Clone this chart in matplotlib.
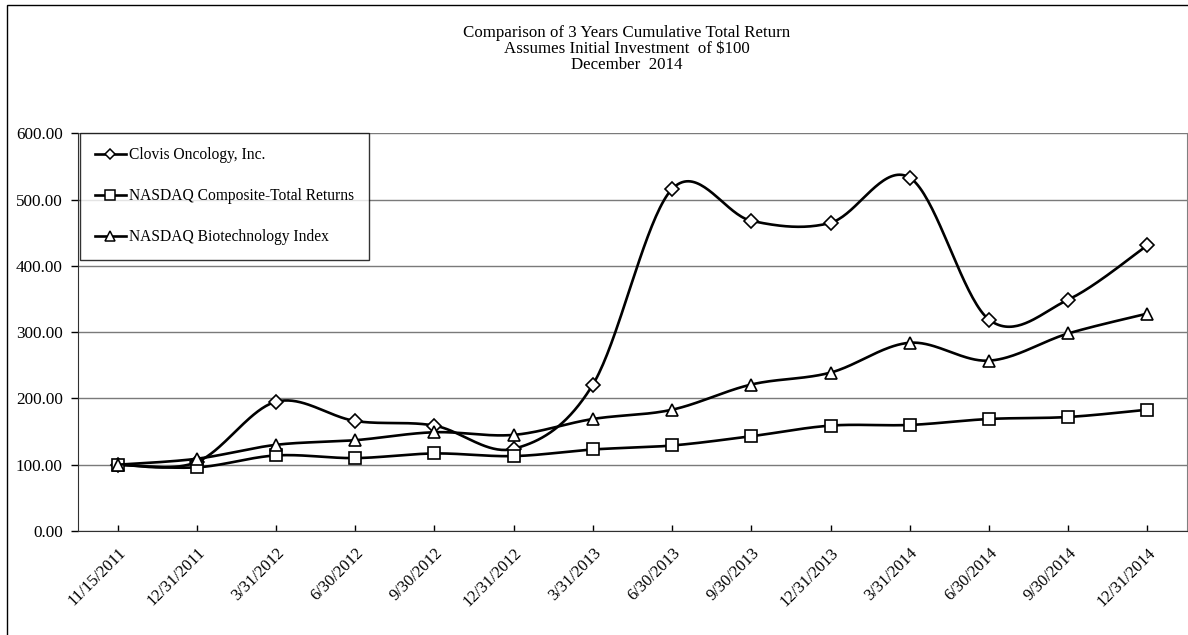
import numpy as np
import matplotlib
matplotlib.use("Agg")
import matplotlib.pyplot as plt
from matplotlib.patches import Rectangle

plt.rcParams['font.family'] = ['Liberation Serif', 'DejaVu Serif']

dates = ["11/15/2011", "12/31/2011", "3/31/2012", "6/30/2012", "9/30/2012",
         "12/31/2012", "3/31/2013", "6/30/2013", "9/30/2013", "12/31/2013",
         "3/31/2014", "6/30/2014", "9/30/2014", "12/31/2014"]
clovis = [100, 104, 195, 166, 159, 124, 221, 516, 468, 465, 533, 319, 349, 431]
composite = [100, 96, 114, 110, 117, 113, 123, 129, 143, 159, 160, 169, 172, 183]
biotech = [100, 109, 130, 137, 149, 145, 169, 183, 221, 239, 284, 257, 298, 328]

series = [("Clovis Oncology, Inc.", clovis, 'D', 6.8),
          ("NASDAQ Composite-Total Returns", composite, 's', 8.2),
          ("NASDAQ Biotechnology Index", biotech, '^', 8.8)]


def smooth(yvals, n=40):
    pts = np.column_stack([np.arange(len(yvals), dtype=float), np.asarray(yvals, float)])
    P = np.vstack([pts[0], pts, pts[-1]])
    out = []
    t = np.linspace(0, 1, n)[:, None]
    for i in range(len(pts) - 1):
        p0, p1, p2, p3 = P[i], P[i + 1], P[i + 2], P[i + 3]
        c1 = p1 + (p2 - p0) / 6.0
        c2 = p2 - (p3 - p1) / 6.0
        seg = (1 - t) ** 3 * p1 + 3 * (1 - t) ** 2 * t * c1 + 3 * (1 - t) * t ** 2 * c2 + t ** 3 * p2
        out.append(seg if i == 0 else seg[1:])
    s = np.vstack(out)
    return s[:, 0], s[:, 1]


W, H = 1188, 635
fig = plt.figure(figsize=(W / 100, H / 100), dpi=100)
ax = fig.add_axes([78 / W, 1 - 531 / H, (1187 - 78) / W, (531 - 133.3) / H])

# outer chart border
fig.patches.append(Rectangle((7 / W, -0.05), 1.2, 1 - 5 / H + 0.05, transform=fig.transFigure,
                             fill=False, edgecolor='black', linewidth=1.0, clip_on=False))

x = np.arange(len(dates))
for i, (name, vals, mk, ms) in enumerate(series):
    sx, sy = smooth(vals)
    ax.plot(sx, sy, color='black', lw=1.9, zorder=3 + i, solid_capstyle='round')
    ax.plot(x, vals, linestyle='none', marker=mk, markersize=ms, markerfacecolor='white',
            markeredgecolor='black', markeredgewidth=1.2, zorder=3 + i)
    ax.plot([], [], color='black', lw=1.9, marker=mk, markersize=ms * 0.8,
            markerfacecolor='white', markeredgecolor='black', markeredgewidth=1.1, label=name)

ax.set_xlim(-0.5, len(dates) - 0.5)
ax.set_ylim(0, 600)
ax.set_yticks(np.arange(0, 601, 100))
ax.set_yticklabels([f"{v:.2f}" for v in np.arange(0, 601, 100)], fontsize=12.3)
ax.set_xticks(x)
ax.set_xticklabels(dates, rotation=45, ha='right', rotation_mode='anchor', fontsize=12)
ax.tick_params(axis='x', direction='in', length=4, width=1, pad=10)
ax.tick_params(axis='y', direction='out', length=5, width=1, pad=6)
ax.yaxis.grid(True, color='#7a7a7a', lw=1.0)
ax.set_axisbelow(True)
ax.spines['top'].set_visible(False)
ax.spines['right'].set_color('#808080')
ax.spines['left'].set_color('#303030')
ax.spines['bottom'].set_color('#303030')

leg = ax.legend(loc='upper left', bbox_to_anchor=(80 / W, 1 - 132.7 / H),
                bbox_transform=fig.transFigure, fontsize=11.2, frameon=True, fancybox=False,
                edgecolor='black', handlelength=2.0, handletextpad=0.2, labelspacing=1.59,
                borderpad=0.95, borderaxespad=0)
leg.get_frame().set_linewidth(1.0)
leg.set_zorder(10)

cx = 627 / W
fig.text(cx, 1 - 37.3 / H, "Comparison of 3 Years Cumulative Total Return", ha='center', va='baseline', fontsize=12.2)
fig.text(cx, 1 - 53.3 / H, "Assumes Initial Investment  of $100", ha='center', va='baseline', fontsize=12.2)
fig.text(cx, 1 - 69.3 / H, "December  2014", ha='center', va='baseline', fontsize=12.2)

fig.savefig("out.png", dpi=100)
